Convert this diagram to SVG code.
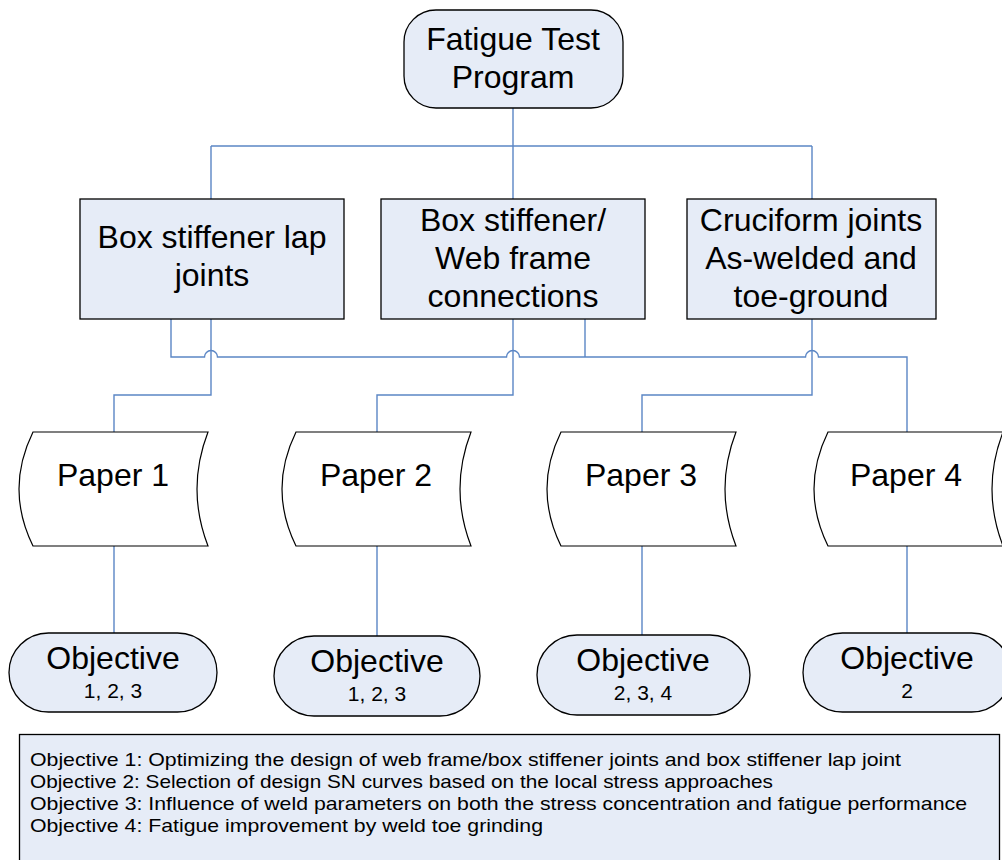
<svg xmlns="http://www.w3.org/2000/svg" width="1002" height="860" viewBox="0 0 1002 860">
<style>
.n{fill:#E6ECF7;stroke:#000;stroke-width:1.3}
.p{fill:#fff;stroke:#000;stroke-width:1.2}
.c{fill:none;stroke:#5B86C5;stroke-width:1.4}
.t{font-family:"Liberation Sans",Arial,sans-serif;font-size:32px;fill:#000;text-anchor:middle}
.s{font-family:"Liberation Sans",Arial,sans-serif;font-size:21px;fill:#000;text-anchor:middle}
.l{font-family:"Liberation Sans",Arial,sans-serif;font-size:19px;fill:#000}
</style>
<rect width="1002" height="860" fill="#fff"/>
<g id="connectors" class="c">
<path d="M513,108 V146 M211,146 H812 M211,146 V199 M513,146 V199 M812,146 V199"/>
<path d="M171,319 V357 H204.5 A6.5,6.5 0 0 1 217.5,357 H506.5 A6.5,6.5 0 0 1 519.5,357 H805.5 A6.5,6.5 0 0 1 818.5,357 H907 V432"/>
<path d="M585,319 V357"/>
<path d="M211,319 V395 H114 V432"/>
<path d="M513,319 V395 H377 V432"/>
<path d="M812,319 V395 H642 V432"/>
<path d="M114,546 V633 M377,546 V636 M642,546 V635 M907,546 V633"/>
</g>
<g id="fatigue-test-program">
<rect class="n" x="404" y="10" width="219" height="98" rx="32" ry="32"/>
<text class="t" x="513" y="50">Fatigue Test</text>
<text class="t" x="513" y="88">Program</text>
</g>
<g id="box-lap">
<rect class="n" x="80" y="199" width="264" height="120"/>
<text class="t" x="212" y="248">Box stiffener lap</text>
<text class="t" x="212" y="286">joints</text>
</g>
<g id="box-web">
<rect class="n" x="381" y="199" width="264" height="120"/>
<text class="t" x="513" y="231">Box stiffener/</text>
<text class="t" x="513" y="269">Web frame</text>
<text class="t" x="513" y="307">connections</text>
</g>
<g id="cruciform">
<rect class="n" x="687" y="199" width="249" height="120"/>
<text class="t" x="811" y="231">Cruciform joints</text>
<text class="t" x="811" y="269">As-welded and</text>
<text class="t" x="811" y="307">toe-ground</text>
</g>
<g id="paper1">
<path class="p" d="M33,432 H208 Q186,489 208,546 H33 Q5,489 33,432 Z"/>
<text class="t" x="113" y="486">Paper 1</text>
</g>
<g id="paper2">
<path class="p" d="M296,432 H471 Q449,489 471,546 H296 Q268,489 296,432 Z"/>
<text class="t" x="376" y="486">Paper 2</text>
</g>
<g id="paper3">
<path class="p" d="M561,432 H736 Q714,489 736,546 H561 Q533,489 561,432 Z"/>
<text class="t" x="641" y="486">Paper 3</text>
</g>
<g id="paper4">
<path class="p" d="M828,432 H1003 Q981,489 1003,546 H828 Q800,489 828,432 Z"/>
<text class="t" x="906" y="486">Paper 4</text>
</g>
<g id="objective-a">
<rect class="n" x="9" y="633" width="208" height="79" rx="39.5" ry="39.5"/>
<text class="t" x="113" y="669">Objective</text>
<text class="s" x="113" y="698">1, 2, 3</text>
</g>
<g id="objective-b">
<rect class="n" x="274" y="636" width="206" height="80" rx="40" ry="40"/>
<text class="t" x="377" y="672">Objective</text>
<text class="s" x="377" y="701">1, 2, 3</text>
</g>
<g id="objective-c">
<rect class="n" x="537" y="635" width="213" height="80" rx="40" ry="40"/>
<text class="t" x="643" y="671">Objective</text>
<text class="s" x="643" y="700">2, 3, 4</text>
</g>
<g id="objective-d">
<rect class="n" x="803" y="633" width="208" height="79" rx="39.5" ry="39.5"/>
<text class="t" x="907" y="669">Objective</text>
<text class="s" x="907" y="698">2</text>
</g>
<g id="legend">
<rect class="n" x="19.5" y="734.5" width="980" height="140"/>
<text class="l" x="30" y="766" textLength="871" lengthAdjust="spacingAndGlyphs">Objective 1: Optimizing the design of web frame/box stiffener joints and box stiffener lap joint</text>
<text class="l" x="30" y="788" textLength="743" lengthAdjust="spacingAndGlyphs">Objective 2: Selection of design SN curves based on the local stress approaches</text>
<text class="l" x="30" y="810" textLength="937" lengthAdjust="spacingAndGlyphs">Objective 3: Influence of weld parameters on both the stress concentration and fatigue performance</text>
<text class="l" x="30" y="832" textLength="513" lengthAdjust="spacingAndGlyphs">Objective 4: Fatigue improvement by weld toe grinding</text>
</g>
</svg>
